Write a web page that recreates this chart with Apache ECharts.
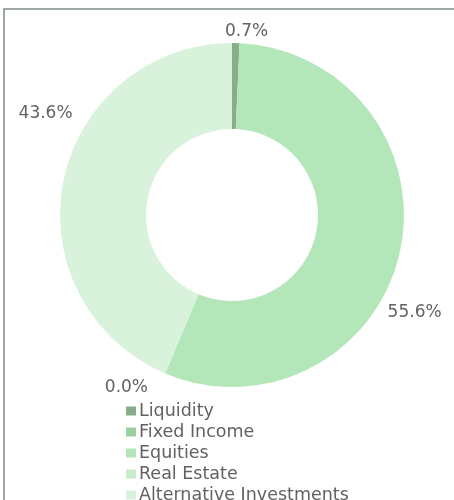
<!DOCTYPE html>
<html>
<head>
<meta charset="utf-8">
<script src="https://cdn.jsdelivr.net/npm/echarts@6/dist/echarts.min.js"></script>
<style>
html,body{margin:0;padding:0;background:#fff;overflow:hidden;}
#frame{position:absolute;left:3px;top:8px;width:520px;height:540px;border:2px solid #9ea89e;box-sizing:border-box;}
#chart{position:absolute;left:0;top:0;width:454px;height:500px;}
</style>
</head>
<body>
<div id="frame"></div>
<div id="chart"></div>
<script>
const categories = ["Liquidity", "Fixed Income", "Equities", "Real Estate", "Alternative Investments"];
const values = [0.7, 0.0, 55.6, 0.0, 43.6];
const colors = ["#87ad8a", "#9ccf9f", "#b3e7b9", "#c7eeca", "#d9f2dc"];
const hiddenLabels = ["Fixed Income"];
// label nudges (style only)
const labelNudge = {
  "Liquidity": [-24, -3],
  "Equities": [-33, 58],
  "Real Estate": [-1, 7],
  "Alternative Investments": [30, -66]
};
const FONT = 'DejaVu Sans';

const chart = echarts.init(document.getElementById('chart'));
chart.setOption({
  animation: false,
  color: colors,
  legend: {
    orient: 'vertical',
    left: 121,
    top: 397,
    height: 300,
    itemWidth: 10,
    itemHeight: 9,
    itemGap: 3,
    icon: 'rect',
    textStyle: {fontSize: 17.5, color: '#626262', fontFamily: FONT, padding: [0,0,0,-2]},
    data: categories
  },
  series: [{
    type: 'pie',
    center: [232, 215],
    radius: [86, 172],
    startAngle: 90,
    clockwise: true,
    avoidLabelOverlap: true,
    label: {
      show: true,
      position: 'outside',
      formatter: p => p.value.toFixed(1) + '%',
      fontSize: 17,
      color: '#626262',
      fontFamily: FONT,
      edgeDistance: 0,
      bleedMargin: 0,
      overflow: 'none'
    },
    labelLine: {show: false, length: 8, length2: 8},
    labelLayout: function (p) {
      const n = labelNudge[categories[p.dataIndex]] || [0, 0];
      return {dx: n[0], dy: n[1]};
    },
    emphasis: {disabled: true},
    data: categories.map((c, i) => ({
      name: c,
      value: values[i],
      label: hiddenLabels.includes(c) ? {show: false} : undefined
    }))
  }]
});
</script>
</body>
</html>
